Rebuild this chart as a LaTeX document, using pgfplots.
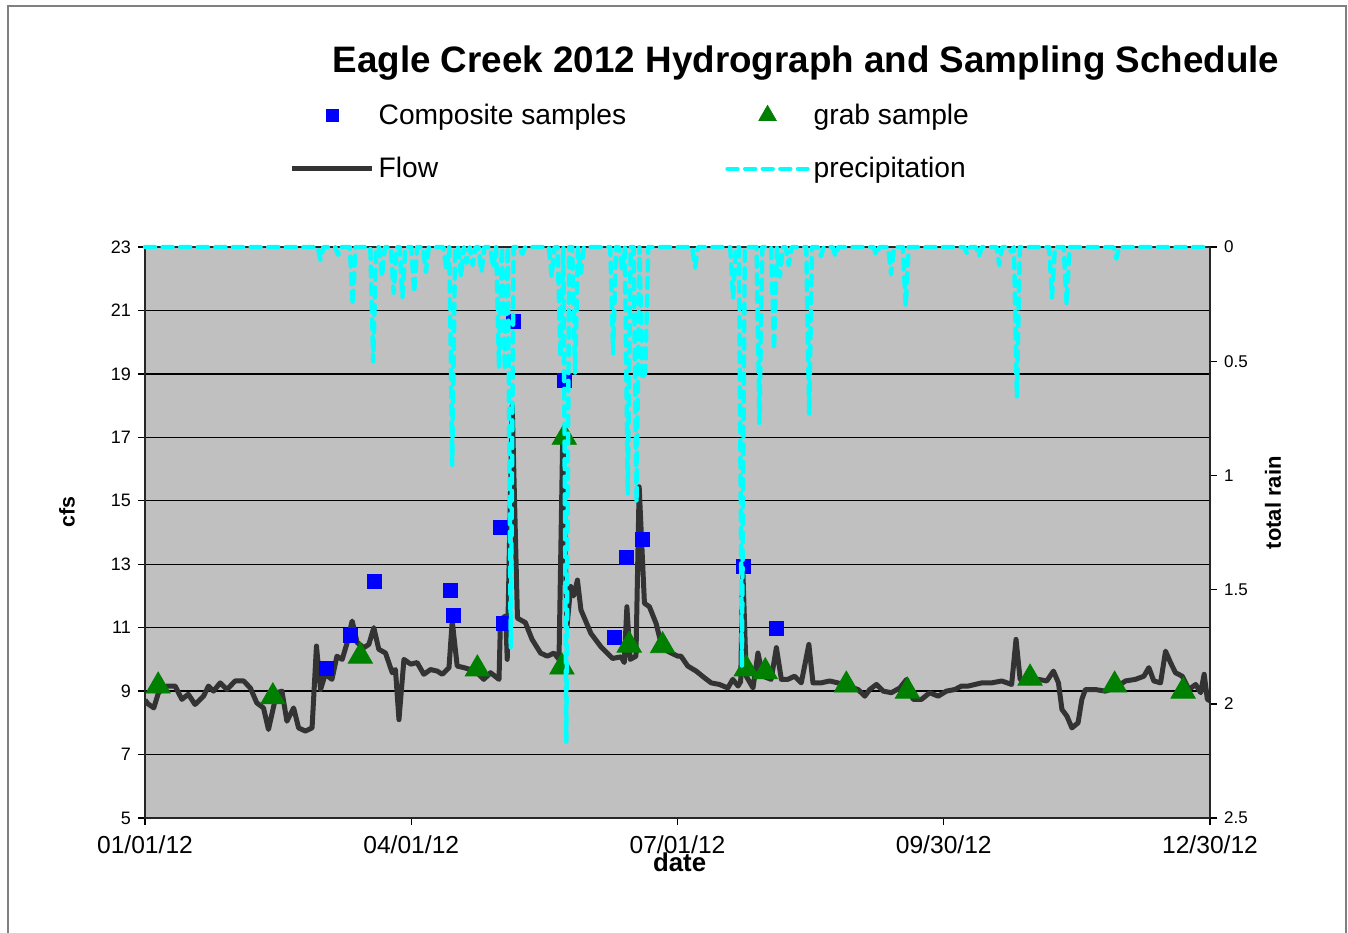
\documentclass[border=0pt]{standalone}
\usepackage{fontspec}
\setmainfont{Liberation Sans}
\usepackage{pgfplots}
\pgfplotsset{compat=1.18}
\definecolor{bg}{HTML}{C0C0C0}
\definecolor{flowc}{HTML}{333333}
\definecolor{rainc}{HTML}{00FFFF}
\definecolor{compc}{HTML}{0000FF}
\definecolor{grabc}{HTML}{008000}
\definecolor{framec}{HTML}{808080}

\pgfplotstableread{
day flow
0 8.72
1 8.6
3 8.47
4.6 8.95
7.4 9.16
10.3 9.16
12.6 8.74
14.8 8.9
17.1 8.58
20 8.84
21.7 9.16
23.4 9.0
25.7 9.26
28 9.05
30.8 9.32
33.7 9.32
36 9.1
38.2 8.63
40.5 8.47
42.2 7.79
44 8.53
45.1 8.95
46.8 9.0
48.5 8.05
50.8 8.47
52.5 7.84
54.8 7.74
57.1 7.84
58.6 10.42
60 9.05
61.6 9.53
63.9 9.37
65.6 10.1
67.4 10.0
69.1 10.53
70.8 11.21
72.5 10.53
74.8 10.37
76.5 10.47
78.2 11.0
79.9 10.32
82.2 10.2
84.5 9.58
85.6 9.68
86.8 8.1
88.5 10.0
90.8 9.85
93 9.9
95.3 9.53
97.6 9.68
99.9 9.63
101.6 9.53
103.9 9.74
105 11.21
106.7 9.79
109 9.74
111.3 9.68
113.5 9.58
115.8 9.37
118.1 9.58
121 9.37
121.5 11.26
123.3 11.37
123.8 10.0
125.5 18.0
127.3 11.3
130 11.16
132.3 10.63
135.2 10.2
137.5 10.1
139.8 10.2
141.5 10.0
142.8 17.2
144.2 11.0
145.5 12.3
146.5 12.0
147.8 12.5
149 11.56
152.4 10.82
155.8 10.4
159.8 10.03
162.7 10.08
163.8 9.9
164.7 11.66
165.8 10.0
167.8 10.1
168.9 15.44
170.7 11.77
172.4 11.66
174.7 11.13
176.4 10.5
178.6 10.26
182.1 10.1
183.2 10.1
185.5 9.79
188.4 9.63
191.2 9.42
193.5 9.26
196.3 9.21
199.2 9.1
200.9 9.37
202.7 9.16
203.6 9.3
204.3 12.9
205.5 9.47
207.8 9.1
209.5 10.2
211.2 9.47
214 9.37
215.8 10.37
217.5 9.37
219.7 9.37
222 9.47
224.3 9.26
226.9 10.47
228.3 9.26
231.1 9.26
234 9.32
236.8 9.26
240.3 9.16
243.7 9.05
246 8.84
247.7 9.05
250 9.21
252.3 9.0
255.1 8.95
258 9.1
260.3 9.37
262.5 8.74
265.4 8.74
268.2 8.95
271.1 8.84
273.9 9.0
276.8 9.05
279.1 9.16
281.4 9.16
286 9.26
289.4 9.26
292.8 9.32
296.2 9.21
297.7 10.63
299.1 9.37
301.9 9.26
305.4 9.37
308.2 9.32
310.5 9.63
312.2 9.26
313.4 8.42
315.1 8.21
316.8 7.84
318.9 8.0
320.2 8.74
321.4 9.05
324.8 9.05
328.2 9.0
331.6 9.1
335.1 9.32
338.5 9.37
341.4 9.47
343.1 9.74
344.8 9.32
347.1 9.26
348.8 10.26
350.5 9.9
352.2 9.58
354.5 9.47
356.8 9.05
359.1 9.21
360.8 8.95
362 9.53
363.1 8.74
364.3 8.68
}\flowtable

\pgfplotstableread{
day flow
62 9.73
70.2 10.77
78.4 12.47
104.5 12.19
105.5 11.4
121.6 14.17
122.6 11.15
126 20.64
143.5 18.81
160.6 10.7
164.7 13.23
169.9 13.79
204.5 12.94
215.8 10.99
}\comptable

\pgfplotstableread{
day flow
4.5 9.16
43.7 8.82
73.6 10.1
113.6 9.7
142.5 9.76
143.3 17.0
165.5 10.45
176.9 10.43
205.5 9.7
212 9.61
239.7 9.19
260.6 9.0
302.5 9.41
331.4 9.19
354.8 9.0
}\grabtable

\pgfplotstableread{
day rain
0 0
59 0
60 0.057
61 0
65 0
66 0.035
67 0
70 0
71 0.254
72 0
77 0
78 0.50
79 0
80 0
81 0.13
82 0
84 0
85 0.20
86 0
87 0
88 0.22
89 0
91 0
92 0.20
93 0
95 0
96 0.11
97 0
102 0
103 0.10
104 0
105 0.954
106 0
107 0
108 0.13
109 0
110 0.07
111 0
112 0.08
113 0
114 0
115 0.11
116 0
118 0
119 0.09
120 0
121 0.53
122 0
123 0.54
124 0
125 1.757
126 0
128 0
129 0.03
130 0
138 0
139 0.13
140 0
141 0
142 0.48
143 0
144 2.166
145 0
146 0
147 0.55
148 0
149 0.115
150 0
159 0
160 0.465
161 0
162 0
163 0.10
164 0
165 1.08
166 0
167 0
168 1.12
169 0
170 0.58
171 0.55
172 0
187 0
188 0.09
189 0
200 0
201 0.225
202 0
203 0
204 1.84
205 0
209 0
210 0.77
211 0
214 0
215 0.45
216 0
217 0.13
218 0
219 0
220 0.08
221 0
226 0
227 0.735
228 0
230 0
231 0.04
232 0
235 0
236 0.04
237 0
249 0
250 0.035
251 0
254 0
255 0.12
256 0
259 0
260 0.26
261 0
280 0
281 0.03
282 0
284 0
285 0.04
286 0
291 0
292 0.08
293 0
295 0
296 0.02
297 0
298 0.66
299 0
309 0
310 0.22
311 0
314 0
315 0.254
316 0
331 0
332 0.05
333 0
364 0
}\raintable

\begin{document}
\begin{tikzpicture}
\useasboundingbox (0pt,0pt) rectangle (674pt,466pt);
\fill[white] (0pt,0pt) rectangle (674pt,466pt);
\draw[framec, line width=1.2pt] (4pt,-5pt) -- (4pt,463pt) -- (673pt,463pt) -- (673pt,-5pt);
\node[font=\bfseries\fontsize{18.4}{22}\selectfont, anchor=base] at (403pt,429.5pt) {Eagle Creek 2012 Hydrograph and Sampling Schedule};

\begin{axis}[
  at={(72.5pt,57pt)}, anchor=south west,
  scale only axis, width=532.5pt, height=285.5pt,
  xmin=0, xmax=364, ymin=5, ymax=23,
  xtick={0,91,182,273,364},
  xticklabels={01/01/12,04/01/12,07/01/12,09/30/12,12/30/12},
  ytick={5,7,9,11,13,15,17,19,21,23},
  ymajorgrids, grid style={black, line width=0.7pt},
  axis background/.style={fill=bg},
  axis line style={black!85, line width=0.8pt},
  tick align=outside, tick pos=left,
  major tick length=3.5pt,
  major tick style={black, line width=0.7pt},
  /pgf/number format/assume math mode=true,
  xticklabel style={font=\fontsize{12.3}{14}\selectfont, yshift=-2pt},
  yticklabel style={font=\fontsize{9}{10}\selectfont},
  xlabel={date},
  xlabel style={font=\bfseries\fontsize{12.9}{14}\selectfont, at={(axis description cs:0.502,-0.077)}, anchor=center},
  ylabel={cfs},
  ylabel style={font=\bfseries\fontsize{10.7}{12}\selectfont, at={(axis description cs:-0.0732,0.536)}, anchor=center},
  legend columns=2,
  legend cell align=left,
  legend style={at={(axis description cs:0.1355,1.2585)}, anchor=north west, draw=none, fill=none,
    font=\fontsize{14.1}{16}\selectfont, inner sep=0pt, row sep=11pt,
    /tikz/every even column/.append style={column sep=47.5pt}},
  legend image code/.code={\draw[mark repeat=2,mark phase=2,#1] plot coordinates {(0pt,0pt) (20pt,0pt) (40pt,0pt)};},
]
\addlegendimage{only marks, mark=square*, mark size=3pt, compc, mark options={draw=compc, fill=compc}}
\addlegendentry{Composite samples}
\addlegendimage{only marks, mark=triangle*, mark size=5pt, grabc, mark options={draw=grabc, fill=grabc}}
\addlegendentry{grab sample}
\addlegendimage{flowc, line width=2.5pt}
\addlegendentry{Flow}
\addlegendimage{rainc, line width=2.2pt, dash pattern=on 5pt off 3.8pt, line cap=round}
\addlegendentry{precipitation}

\addplot[forget plot, flowc, line width=2.5pt, line join=round] table[x=day, y=flow] {\flowtable};
\addplot[forget plot, only marks, mark=square*, mark size=3.5pt, mark options={draw=compc, fill=compc}] table[x=day, y=flow] {\comptable};
\addplot[forget plot, only marks, mark=triangle*, mark size=7pt, mark options={draw=grabc, fill=grabc}] table[x=day, y=flow] {\grabtable};
\end{axis}

\begin{axis}[
  at={(72.5pt,57pt)}, anchor=south west,
  scale only axis, width=532.5pt, height=285.5pt,
  xmin=0, xmax=364, ymin=0, ymax=2.5, y dir=reverse,
  axis y line*=right, axis x line=none,
  axis line style={black!85, line width=0.8pt},
  ytick={0,0.5,1,1.5,2,2.5},
  yticklabels={0,0.5,1,1.5,2,2.5},
  tick align=outside,
  major tick length=3.5pt,
  major tick style={black, line width=0.7pt},
  yticklabel style={font=\fontsize{8.5}{10}\selectfont},
  ylabel={total rain},
  ylabel style={font=\bfseries\fontsize{11}{12}\selectfont, at={(axis description cs:1.0592,0.552)}, anchor=center},
  clip=false,
]
\addplot[rainc, line width=2.2pt, dash pattern=on 5pt off 3.8pt, line cap=round, line join=round] table[x=day, y=rain] {\raintable};
\end{axis}
\end{tikzpicture}
\end{document}
